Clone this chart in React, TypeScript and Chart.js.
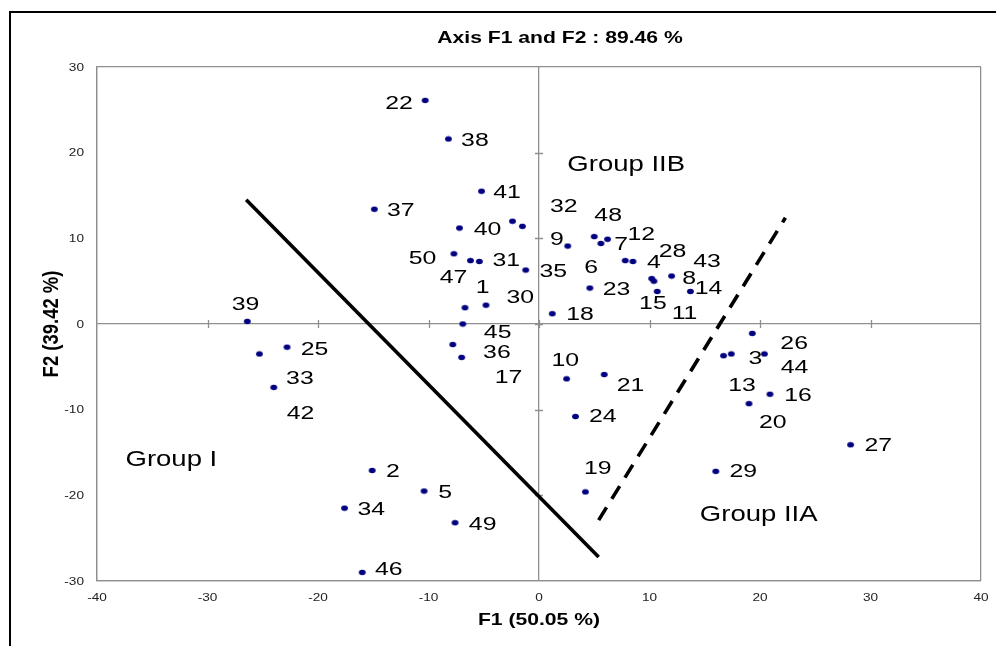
import React, { useEffect, useRef } from "react";
import { Chart, registerables } from "chart.js";

Chart.register(...registerables);

// ---------- data ----------
const pointIds = [22, 38, 41, 37, 40, 32, 6, 50, 47, 31, 35, 1, 30, 45, 39, 36, 17, 25, 33, 42, 2, 5, 34, 49, 46, 9, 48, 7, 12, 4, 28, 15, 11, 8, 43, 14, 23, 18, 26, 13, 3, 44, 16, 20, 27, 29, 10, 21, 24, 19];
const f1Values = [-10.3, -8.2, -5.2, -14.9, -7.2, -2.4, -1.5, -7.7, -6.2, -5.4, -1.2, -6.7, -4.8, -6.9, -26.4, -7.8, -7.0, -22.8, -24.0, -25.3, -15.1, -10.4, -17.6, -7.6, -16.0, 2.6, 5.0, 5.6, 6.2, 7.8, 8.5, 10.2, 10.4, 12.0, 10.7, 13.7, 4.6, 1.2, 19.3, 16.7, 17.4, 20.4, 20.9, 19.0, 28.2, 16.0, 2.5, 5.9, 3.3, 4.2];
const f2Values = [26.1, 21.6, 15.5, 13.4, 11.2, 12.0, 11.4, 8.2, 7.4, 7.3, 6.3, 1.9, 2.2, 0.0, 0.3, -2.4, -3.9, -2.7, -7.4, -3.5, -17.1, -19.5, -21.5, -23.2, -29.0, 9.1, 10.2, 9.4, 9.9, 7.4, 7.3, 5.3, 5.0, 5.6, 3.8, 3.8, 4.2, 1.2, -1.1, -3.7, -3.5, -3.5, -8.2, -9.3, -14.1, -17.2, -6.4, -5.9, -10.8, -19.6];
// where each point's label was placed on the F1/F2 plane
const labelF1 = [-12.67, -5.8, -2.9, -12.51, -4.65, 2.24, 4.71, -10.54, -7.73, -2.96, 1.3, -5.1, -1.7, -3.74, -26.56, -3.81, -2.75, -20.31, -21.64, -21.58, -13.21, -8.49, -15.17, -5.1, -13.6, 1.63, 6.26, 7.43, 9.25, 10.4, 12.09, 10.31, 13.17, 13.6, 15.2, 15.35, 7.01, 3.72, 23.09, 18.38, 19.58, 23.12, 23.45, 21.15, 30.71, 18.49, 2.38, 8.28, 5.78, 5.32];
const labelF2 = [25.79, 21.45, 15.42, 13.29, 11.07, 13.79, 6.61, 7.69, 5.51, 7.46, 6.21, 4.28, 3.18, -0.9, 2.3, -3.23, -6.14, -2.88, -6.26, -10.34, -17.17, -19.62, -21.6, -23.34, -28.59, 9.87, 12.7, 9.29, 10.49, 7.19, 8.54, 2.41, 1.25, 5.33, 7.38, 4.23, 4.08, 1.17, -2.18, -7.11, -4.0, -5.05, -8.31, -11.46, -14.18, -17.21, -4.2, -7.14, -10.8, -16.82];

const groupNames = ["Group I", "Group IIB", "Group IIA"];
const groupF1 = [-33.27, 7.89, 19.88];
const groupF2 = [-15.77, 18.73, -22.14];

const solidLineF1 = [-26.5, 5.4];
const solidLineF2 = [14.5, -27.2];
const dashedLineF1 = [5.4, 22.3];
const dashedLineF2 = [-22.9, 12.4];

const xTickValues = [-40, -30, -20, -10, 0, 10, 20, 30, 40];
const yTickValues = [-30, -20, -10, 0, 10, 20, 30];

const chartTitle = "Axis F1 and F2 : 89.46 %";
const xAxisTitle = "F1 (50.05 %)";
const yAxisTitle = "F2 (39.42 %)";

// ---------- style ----------
const W = 996;
const H = 646;
const FONT = "'Liberation Sans', Arial, Helvetica, sans-serif";
const AXIS_GRAY = "#8f8f8f";
const DOT_COLOR = "#000080";
const FRAME = { left: 10, top: 12, width: 1100, height: 700 };

function drawText(
  ctx: CanvasRenderingContext2D,
  text: string,
  x: number,
  y: number,
  font: string,
  sx: number,
  sy: number,
  align: CanvasTextAlign,
  color: string,
  rotate = 0
) {
  ctx.save();
  ctx.translate(x, y);
  ctx.scale(sx, sy);
  if (rotate) ctx.rotate(rotate);
  ctx.font = font;
  ctx.fillStyle = color;
  ctx.textAlign = align;
  ctx.textBaseline = "middle";
  ctx.fillText(text, 0, 0);
  ctx.restore();
}

const decorPlugin = {
  id: "decor",
  beforeDraw(chart: any) {
    const ctx = chart.ctx as CanvasRenderingContext2D;
    ctx.save();
    ctx.fillStyle = "#ffffff";
    ctx.fillRect(0, 0, chart.width, chart.height);
    ctx.strokeStyle = "#000000";
    ctx.lineWidth = 2;
    ctx.strokeRect(FRAME.left, FRAME.top, FRAME.width, FRAME.height);
    ctx.restore();
  },
  beforeDatasetsDraw(chart: any) {
    const ctx = chart.ctx as CanvasRenderingContext2D;
    const xs = chart.scales.x;
    const ys = chart.scales.y;
    const x0 = xs.getPixelForValue(0);
    const y0 = ys.getPixelForValue(0);
    ctx.save();
    ctx.strokeStyle = AXIS_GRAY;
    ctx.lineWidth = 1.3;
    ctx.beginPath();
    xTickValues.forEach((v) => {
      if (v === xs.min || v === xs.max) return;
      const px = Math.round(xs.getPixelForValue(v)) + 0.5;
      ctx.moveTo(px, y0 - 4);
      ctx.lineTo(px, y0 + 4);
    });
    yTickValues.forEach((v) => {
      if (v === ys.min || v === ys.max) return;
      const py = Math.round(ys.getPixelForValue(v)) + 0.5;
      ctx.moveTo(x0 - 4, py);
      ctx.lineTo(x0 + 4, py);
    });
    ctx.stroke();
    ctx.restore();
  },
  afterDatasetsDraw(chart: any) {
    const ctx = chart.ctx as CanvasRenderingContext2D;
    const xs = chart.scales.x;
    const ys = chart.scales.y;
    const area = chart.chartArea;

    // point labels
    pointIds.forEach((id, i) => {
      drawText(ctx, String(id), xs.getPixelForValue(labelF1[i]), ys.getPixelForValue(labelF2[i]) + 1, `18px ${FONT}`, 1.38, 1, "center", "#000");
    });
    // group labels
    groupNames.forEach((g, i) => {
      drawText(ctx, g, xs.getPixelForValue(groupF1[i]), ys.getPixelForValue(groupF2[i]) + 1, `22px ${FONT}`, 1.25, 1, "center", "#000");
    });

    // tick labels
    xTickValues.forEach((v) => {
      drawText(ctx, String(v), xs.getPixelForValue(v), area.bottom + 17, `10px ${FONT}`, 1.36, 1, "center", "#222");
    });
    yTickValues.forEach((v) => {
      drawText(ctx, String(v), area.left - 13, ys.getPixelForValue(v) + 1, `10px ${FONT}`, 1.36, 1, "right", "#222");
    });

    // titles
    drawText(ctx, chartTitle, FRAME.left + FRAME.width / 2, 38, `bold 16.5px ${FONT}`, 1.28, 1, "center", "#000");
    drawText(ctx, xAxisTitle, (area.left + area.right) / 2, 620, `bold 16.5px ${FONT}`, 1.28, 1, "center", "#000");
    drawText(ctx, yAxisTitle, 52, (area.top + area.bottom) / 2, `bold 16.5px ${FONT}`, 1.3, 1.12, "center", "#000", -Math.PI / 2);
  },
};

export default function App() {
  const canvasRef = useRef<HTMLCanvasElement | null>(null);

  useEffect(() => {
    const canvas = canvasRef.current;
    if (!canvas) return;

    const dot = document.createElement("canvas");
    dot.width = 9;
    dot.height = 7;
    const dctx = dot.getContext("2d")!;
    dctx.fillStyle = DOT_COLOR;
    dctx.beginPath();
    dctx.ellipse(4.5, 3.5, 3.4, 2.7, 0, 0, Math.PI * 2);
    dctx.fill();

    const edgeOrZero = (min: number, max: number) => (c: any) => {
      const v = c.tick ? c.tick.value : NaN;
      return v === 0 || v === min || v === max ? AXIS_GRAY : "rgba(0,0,0,0)";
    };

    const chart = new Chart(canvas, {
      type: "scatter",
      data: {
        datasets: [
          {
            label: "observations",
            data: f1Values.map((x, i) => ({ x, y: f2Values[i] })),
            pointStyle: dot as any,
            pointRadius: 3.4,
            pointBackgroundColor: DOT_COLOR,
            pointBorderWidth: 0,
            showLine: false,
          },
          {
            label: "solid boundary",
            data: solidLineF1.map((x, i) => ({ x, y: solidLineF2[i] })),
            showLine: true,
            borderColor: "#000",
            borderWidth: 3.6,
            pointRadius: 0,
            fill: false,
          },
          {
            label: "dashed boundary",
            data: dashedLineF1.map((x, i) => ({ x, y: dashedLineF2[i] })),
            showLine: true,
            borderColor: "#000",
            borderWidth: 3.6,
            borderDash: [15, 10],
            pointRadius: 0,
            fill: false,
          },
        ],
      },
      options: {
        animation: false,
        responsive: false,
        events: [],
        layout: { padding: { left: 97, right: 15, top: 67, bottom: 65 } },
        plugins: {
          legend: { display: false },
          title: { display: false },
          tooltip: { enabled: false },
        },
        scales: {
          x: {
            type: "linear",
            min: -40,
            max: 40,
            ticks: { display: false, stepSize: 10 },
            grid: { color: edgeOrZero(-40, 40), drawTicks: false, lineWidth: 1.3 },
            border: { display: true, color: AXIS_GRAY, width: 1.3 },
          },
          y: {
            type: "linear",
            min: -30,
            max: 30,
            ticks: { display: false, stepSize: 10 },
            grid: { color: edgeOrZero(-30, 30), drawTicks: false, lineWidth: 1.3 },
            border: { display: true, color: AXIS_GRAY, width: 1.3 },
          },
        },
      },
      plugins: [decorPlugin],
    });

    return () => chart.destroy();
  }, []);

  return (
    <div style={{ position: "fixed", left: 0, top: 0, width: W, height: H, overflow: "hidden", background: "#fff" }}>
      <canvas ref={canvasRef} width={W} height={H} style={{ display: "block", width: W, height: H }} />
    </div>
  );
}
